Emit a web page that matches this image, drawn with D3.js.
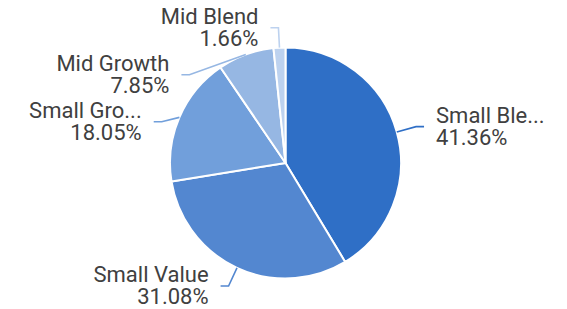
<!DOCTYPE html>
<html lang="en">
<head>
<meta charset="UTF-8">
<script src="https://d3js.org/d3.v7.min.js"></script>
<style>
  body { margin: 0; background: #fff; }
  svg { display: block; }
</style>
</head>
<body>
<div id="chart"></div>
<script>
// slice data, clockwise from the top
const labels = ["Small Ble...", "Small Value", "Small Gro...", "Mid Growth", "Mid Blend"]
const values = [41.36, 31.08, 18.05, 7.85, 1.66]
const colors = ["#2f6fc6", "#5387d0", "#719fdb", "#96b7e3", "#bdd2ef"]

const width = 567, height = 309
const cx = 285.5, cy = 163, r = 115.5
const fmt = d => d.toFixed(2) + "%"

const svg = d3.select("#chart").append("svg")
    .attr("width", width).attr("height", height)

const g = svg.append("g").attr("transform", `translate(${cx},${cy})`)

const pie = d3.pie().sort(null).value(d => d.v)
const data = pie(values.map((v, i) => ({ v: v, name: labels[i], color: colors[i] })))
const arc = d3.arc().innerRadius(0).outerRadius(r)

g.selectAll("path.slice")
    .data(data)
    .enter().append("path")
    .attr("class", "slice")
    .attr("d", arc)
    .attr("fill", d => d.data.color)
    .attr("stroke", "#fff")
    .attr("stroke-width", 2)
    .attr("stroke-linejoin", "round")

// label layout: elbow on outer ring, then push apart on each side
const ringR = r + 20
data.forEach(d => {
  const a = (d.startAngle + d.endAngle) / 2
  d.mid = a
  d.edge = [Math.sin(a) * r, -Math.cos(a) * r]
  d.elbow = [Math.sin(a) * ringR, -Math.cos(a) * ringR]
  d.side = Math.sin(a) >= 0 ? 1 : -1
})

const minGap = 47
;[1, -1].forEach(side => {
  const items = data.filter(d => d.side === side).sort((a, b) => a.elbow[1] - b.elbow[1])
  for (let i = 1; i < items.length; i++) {
    const prev = items[i - 1], cur = items[i]
    if (cur.elbow[1] - prev.elbow[1] < minGap) {
      cur.elbow[1] = prev.elbow[1] + minGap
      const rr = ringR - 5
      const dy = Math.min(Math.abs(cur.elbow[1]), rr)
      cur.elbow[0] = side * Math.sqrt(rr * rr - dy * dy)
    }
  }
})

const labelG = g.selectAll("g.lbl")
    .data(data)
    .enter().append("g")
    .attr("class", "lbl")

labelG.append("polyline")
    .attr("points", d => {
      const end = [d.elbow[0] + d.side * 8, d.elbow[1]]
      return [d.edge, d.elbow, end].map(p => p.join(",")).join(" ")
    })
    .attr("fill", "none")
    .attr("stroke", d => d.data.color)
    .attr("stroke-width", 1.6)

const txt = labelG.append("text")
    .attr("font-family", "Roboto, 'Noto Sans', sans-serif")
    .attr("font-size", 22)
    .attr("fill", "#404040")
    .attr("text-anchor", d => d.side > 0 ? "start" : "end")
    .attr("x", d => d.elbow[0] + d.side * 20)
    .attr("y", d => d.elbow[1] - 3.5)

txt.append("tspan").text(d => d.data.name)
txt.append("tspan")
    .attr("x", d => d.elbow[0] + d.side * 20)
    .attr("dy", 22)
    .text(d => fmt(d.data.v))
</script>
</body>
</html>
